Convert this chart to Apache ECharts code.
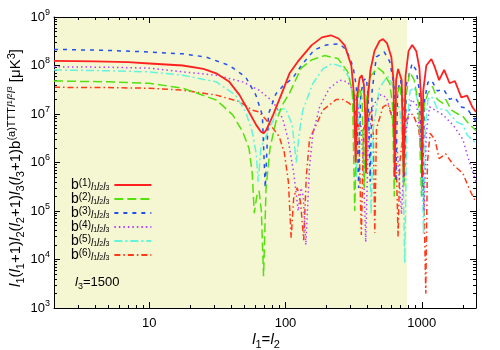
<!DOCTYPE html>
<html>
<head>
<meta charset="utf-8">
<script src="https://cdn.jsdelivr.net/npm/echarts@6/dist/echarts.min.js"></script>
<style>
html, body { margin: 0; padding: 0; background: #fff; }
#main { width: 500px; height: 350px; }
</style>
</head>
<body>
<div id="main"></div>
<script>
// axis ranges and tick labels
var xMin = 2, xMax = 2500;
var yMin = 1e3, yMax = 1e9;
var xMajor = [10, 100, 1000];
var yExps = [3, 4, 5, 6, 7, 8, 9];
var shadeEnd = 780;

// b(1)..b(6), [l1, value]
var b1Data = [[2,1.24e8],[4,1.22e8],[7,1.17e8],[10,1.1e8],[17.6,1e8],[25,8.5e7],[31,6.9e7],[38.7,4.6e7],[46,2.45e7],[54,1.1e7],[61,5.9e6],[66,4.3e6],[69,4e6],[72,4.6e6],[81,9.5e6],[95,2.9e7],[107,6.9e7],[123,1.2e8],[155,2.6e8],[185,3.8e8],[215,4.2e8],[245,3.6e8],[272,2.6e8],[304,1e8],[318,2.5e7],[327,1e6],[336,2.5e7],[350,5.5e7],[363,6.3e7],[376,4e7],[384,1e7],[390,6e5],[398,1.5e7],[420,8e7],[450,2e8],[490,3.2e8],[519,3.5e8],[555,2.9e8],[598,1.5e8],[620,5e7],[633,5e5],[648,5e7],[670,8.5e7],[690,9e7],[712,5e7],[736,5e5],[760,6e7],[800,2e8],[851,2.65e8],[910,2e8],[960,9e7],[990,2e7],[1005,5e5],[1025,3e7],[1080,1e8],[1176,1.36e8],[1250,9e7],[1340,5e7],[1460,8.1e7],[1600,4.3e7],[1750,4.8e7],[1950,2.2e7],[2150,2.4e7],[2350,1.4e7],[2500,1.1e7]];
var b2Data = [[2,4.8e7],[5,4.6e7],[10,4.3e7],[17.6,3.4e7],[31,1.95e7],[41,9.6e6],[48.5,4.3e6],[54,1.95e6],[57,6e5],[59,9e4],[61.5,2e5],[64,2.6e5],[66.5,1e5],[69,4.5e3],[72,3e5],[77,2e6],[85,6.9e6],[95,1.55e7],[107,2.7e7],[130,8.7e7],[155,1.3e8],[193,1.6e8],[242,1.4e8],[286,7.4e7],[310,2.9e7],[322,1e5],[335,1.5e7],[350,3.5e7],[365,2e7],[378,3e5],[392,2e7],[420,6e7],[476,9e7],[519,7.4e7],[582,4.3e7],[610,1.5e7],[628,2e5],[645,2e7],[690,4e7],[718,1.5e7],[738,3e5],[760,2e7],[815,7.4e7],[880,5e7],[950,1.5e7],[995,2e5],[1040,1.5e7],[1110,2.7e7],[1200,3.7e7],[1300,2e7],[1430,1.65e7],[1500,2e7],[1650,1.2e7],[1840,1e7],[2000,9e6],[2150,6.9e6],[2500,4.5e6]];
var b3Data = [[2,2.15e8],[5,2.05e8],[10,1.9e8],[17.6,1.74e8],[26,1.5e8],[38.7,1e8],[51,5.8e7],[60.6,2.45e7],[67.6,9.5e6],[71,3e5],[75,1e7],[85,2.6e7],[95,3.7e7],[113,5.5e7],[134,1.1e8],[163,2.1e8],[199,2.65e8],[250,2.8e8],[279,2.1e8],[313,9.5e7],[331,3.7e7],[344,3e5],[356,2.5e7],[375,5e7],[392,5.5e7],[405,2e7],[418,4e5],[432,3e7],[464,1.5e8],[530,1.9e8],[582,1.2e8],[625,4e7],[645,4e5],[665,3e7],[700,5e7],[725,2e7],[745,4e5],[770,4e7],[850,1.1e8],[910,8e7],[960,3e7],[1010,3e5],[1050,2e7],[1110,4.5e7],[1180,5e7],[1300,3e7],[1450,3.2e7],[1600,2e7],[1750,2.2e7],[1950,1.4e7],[2150,1.3e7],[2500,7e6]];
var b4Data = [[2,9.4e7],[5,9.2e7],[10,8.8e7],[17.6,7.4e7],[31,6.3e7],[48.5,4.6e7],[64,3.1e7],[81,1.8e7],[95,8.2e6],[104,3.2e6],[115,6e5],[124,1e5],[130,3e5],[135,2e5],[141,2e4],[150,8e5],[159,4e6],[178,1.4e7],[210,3.4e7],[250,5e7],[285,4.6e7],[313,3.1e7],[340,1.5e7],[360,5e6],[375,5e5],[388,2.3e4],[405,3e6],[440,1.5e7],[500,2.5e7],[550,2.2e7],[600,1e7],[660,2e6],[710,8.6e4],[760,4e6],[840,2e7],[920,1.5e7],[990,2e6],[1040,1e5],[1080,4e6],[1140,1.4e7],[1250,1.2e7],[1430,9.6e6],[1700,5.9e6],[2000,3e6],[2200,1.2e6],[2500,4e5]];
var b5Data = [[2,8.1e7],[5,7.8e7],[10,7.4e7],[17.6,6.3e7],[31,4.6e7],[43,2.45e7],[51,1.1e7],[57,4.3e6],[61,1.5e6],[63,4e5],[66,2e6],[76,5e6],[88,1.2e7],[100,1.3e7],[112,6e6],[120,1e6],[126,4e6],[134,1.2e7],[159,4.3e7],[188,8.5e7],[220,1.1e8],[257,9.5e7],[295,5.5e7],[318,1.5e7],[331,4.8e5],[345,1.5e7],[370,3e7],[395,2e7],[415,2e6],[425,8.6e4],[440,5e6],[490,3.5e7],[560,6e7],[600,4.5e7],[650,2e7],[690,1.2e7],[720,3e6],[750,8.4e3],[775,5e6],[820,3e7],[880,3.5e7],[950,1.5e7],[1000,2e6],[1030,3.2e4],[1060,5e6],[1110,2e7],[1180,2.3e7],[1300,1.3e7],[1520,1.2e7],[1800,6.9e6],[2000,6e6],[2150,3.7e6],[2500,2.5e6]];
var b6Data = [[2,3.55e7],[5,3.5e7],[10,3.4e7],[17.6,3.1e7],[31,2.45e7],[46,1.8e7],[57,1.2e7],[64,1.1e7],[76,6.4e6],[90,3.4e6],[98,1.6e6],[105,4e5],[110,2.8e4],[115,2e5],[122,3e5],[129,1.5e5],[136,2.5e4],[142,5e5],[150,3e6],[172,6.9e6],[188,1.2e7],[236,2e7],[263,2e7],[295,1.65e7],[322,1.3e7],[345,5e6],[360,3.2e4],[375,5e6],[400,8e6],[425,1.2e7],[440,5e6],[452,3.5e4],[465,5e6],[519,1.4e7],[565,1.6e7],[610,8e6],[650,1e6],[670,3e4],[690,1e6],[740,6e6],[800,9e6],[860,1e7],[950,5e6],[1030,5e5],[1070,2e3],[1100,1e6],[1150,4e6],[1250,3e6],[1340,1.2e6],[1500,1.5e6],[1700,9e5],[2000,6e5],[2250,2.7e5],[2500,1.5e5]];

var names = ['b1', 'b2', 'b3', 'b4', 'b5', 'b6'];
var colors = ['#ff2020', '#55e010', '#2050f0', '#b040ff', '#60f5dc', '#ff3a18'];
var dashes = ['solid', [9, 4], [4, 5], [1.5, 3], [8, 3, 2, 3], [6, 3, 1.5, 3]];
var allData = [b1Data, b2Data, b3Data, b4Data, b5Data, b6Data];

var font = 'Liberation Sans';

// minor tick positions for the log axes (2..9 in each decade)
var xMinor = [], yMinor = [];
for (var d = 1; d <= 1000; d *= 10) {
  for (var m = 2; m <= 9; m++) {
    if (m * d >= xMin && m * d <= xMax) xMinor.push(m * d);
  }
}
for (var e = 3; e < 9; e++) {
  for (var m2 = 2; m2 <= 9; m2++) yMinor.push(m2 * Math.pow(10, e));
}
var yMajor = yExps.map(function (p) { return Math.pow(10, p); });

var richBig = {
  n: { fontSize: 15, fontFamily: font, color: '#000', lineHeight: 20 },
  i: { fontSize: 15, fontFamily: font, fontStyle: 'italic', color: '#000', lineHeight: 20 },
  s: { fontSize: 11, fontFamily: font, color: '#000', verticalAlign: 'bottom' },
  si: { fontSize: 11, fontFamily: font, fontStyle: 'italic', color: '#000', verticalAlign: 'top' },
  sd: { fontSize: 8, fontFamily: font, color: '#000', verticalAlign: 'top' },
  p: { fontSize: 11, fontFamily: font, color: '#000', verticalAlign: 'top' }
};
var richNote = {
  n: { fontSize: 13, fontFamily: font, color: '#000', lineHeight: 18 },
  i: { fontSize: 13, fontFamily: font, fontStyle: 'italic', color: '#000', lineHeight: 18 },
  s: { fontSize: 9, fontFamily: font, color: '#000', verticalAlign: 'bottom' }
};

function xAx(pos, ticks, len, withLabels) {
  return {
    type: 'log', logBase: 10, min: xMin, max: xMax, position: pos, z: 5,
    axisLine: { show: len > 4, lineStyle: { color: '#000', width: 1 } },
    axisTick: { show: true, inside: true, length: len, customValues: ticks, lineStyle: { color: '#000', width: 1 } },
    axisLabel: { show: withLabels, customValues: ticks, margin: 9, color: '#000', fontSize: 13, fontFamily: font,
      formatter: function (v) { return String(Math.round(v)); } },
    splitLine: { show: false }
  };
}

function yAx(pos, ticks, len, withLabels) {
  return {
    type: 'log', logBase: 10, min: yMin, max: yMax, position: pos, z: 5,
    axisLine: { show: len > 4, lineStyle: { color: '#000', width: 1 } },
    axisTick: { show: true, inside: true, length: len, customValues: ticks, lineStyle: { color: '#000', width: 1 } },
    axisLabel: { show: withLabels, customValues: ticks, margin: 4,
      formatter: function (v) { return '{a|10}{e|' + Math.round(Math.log10(v)) + '}'; },
      rich: {
        a: { fontSize: 13, fontFamily: font, color: '#000', lineHeight: 18 },
        e: { fontSize: 9, fontFamily: font, color: '#000', verticalAlign: 'top' }
      } },
    splitLine: { show: false }
  };
}

var series = [{
  type: 'line', name: 'shade', data: [], z: 1, silent: true,
  markArea: { silent: true, itemStyle: { color: '#f5f7d3' }, data: [[{ xAxis: xMin }, { xAxis: shadeEnd }]] }
}];
names.forEach(function (nm, k) {
  series.push({
    type: 'line', name: nm, data: allData[k], z: 3 + (names.length - k),
    showSymbol: false, symbol: 'none', xAxisIndex: 0, yAxisIndex: 0,
    itemStyle: { color: colors[k] },
    lineStyle: { color: colors[k], width: k === 0 ? 1.8 : 1.5, type: dashes[k] }
  });
});

var chart = echarts.init(document.getElementById('main'));
chart.setOption({
  animation: false,
  backgroundColor: '#fff',
  grid: { left: 54, right: 24, top: 17, bottom: 42, containLabel: false, outerBoundsMode: 'none' },
  xAxis: [xAx('bottom', xMajor, 6, true), xAx('bottom', xMinor, 3, false), xAx('top', xMajor, 6, false), xAx('top', xMinor, 3, false)],
  yAxis: [yAx('left', yMajor, 6, true), yAx('left', yMinor, 3, false), yAx('right', yMajor, 6, false), yAx('right', yMinor, 3, false)],
  legend: {
    data: names, orient: 'vertical', left: 66, top: 173, align: 'right',
    itemWidth: 37, itemHeight: 14, itemGap: 0,
    itemStyle: { opacity: 0 },
    formatter: function (nm) {
      return '{b|b}{p|(' + nm.slice(1) + ')}{si|l}{sd|1}{si|l}{sd|2}{si|l}{sd|3}';
    },
    textStyle: {
      rich: {
        b: { fontSize: 14, fontFamily: font, color: '#000', lineHeight: 14 },
        p: { fontSize: 10, fontFamily: font, color: '#000', verticalAlign: 'top' },
        si: { fontSize: 10, fontFamily: font, fontStyle: 'italic', color: '#000', verticalAlign: 'bottom' },
        sd: { fontSize: 7, fontFamily: font, color: '#000', verticalAlign: 'bottom' }
      }
    }
  },
  graphic: [{
    type: 'text', left: 75, top: 276, z: 20,
    style: { text: '{i|l}{s|3}{n|=1500}', rich: richNote }
  }, {
    // y axis title
    type: 'text', x: 16, y: 168, rotation: Math.PI / 2, z: 20,
    style: {
      text: '{i|l}{s|1}{n|(}{i|l}{s|1}{n|+1)}{i|l}{s|2}{n|(}{i|l}{s|2}{n|+1)}{i|l}{s|3}{n|(}{i|l}{s|3}{n|+1)b}{p|(a)TTT}{si|l}{sd|1}{si|l}{sd|2}{si|l}{sd|3}{n| [μK}{p|3}{n|]}',
      rich: richBig, align: 'center', verticalAlign: 'middle'
    }
  }, {
    // x axis title
    type: 'text', x: 266, y: 340, z: 20,
    style: { text: '{i|l}{s|1}{n|=}{i|l}{s|2}', rich: richBig, align: 'center', verticalAlign: 'middle' }
  }],
  series: series
});
</script>
</body>
</html>
